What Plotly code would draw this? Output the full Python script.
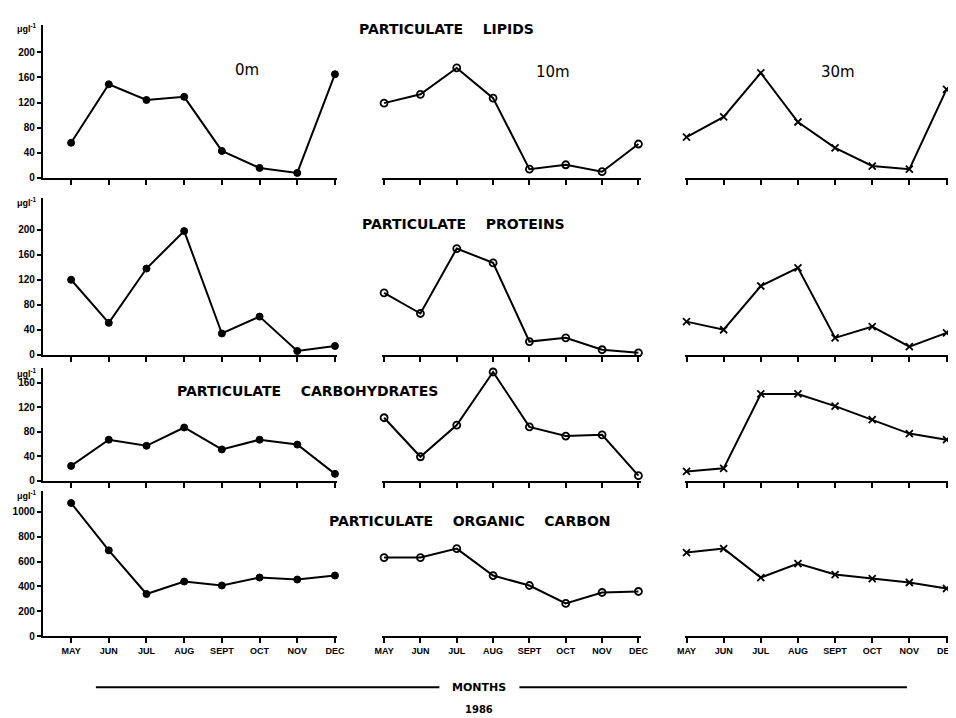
import plotly.graph_objects as go

months = ["MAY", "JUN", "JUL", "AUG", "SEPT", "OCT", "NOV", "DEC"]
depths = ["0m", "10m", "30m"]

lipids_0m = [56, 149, 124, 129, 43, 16, 8, 165]
lipids_10m = [119, 133, 175, 127, 14, 21, 10, 54]
lipids_30m = [65, 97, 167, 89, 48, 19, 14, 141]

proteins_0m = [120, 51, 138, 198, 34, 61, 6, 14]
proteins_10m = [99, 66, 170, 147, 21, 27, 8, 3]
proteins_30m = [53, 40, 110, 139, 27, 45, 13, 35]

carbo_0m = [24, 67, 57, 87, 51, 67, 59, 11]
carbo_10m = [103, 39, 91, 178, 88, 73, 75, 8]
carbo_30m = [15, 20, 142, 142, 122, 100, 77, 67]

carbon_0m = [1070, 690, 340, 440, 408, 472, 456, 488]
carbon_10m = [632, 632, 704, 488, 408, 264, 352, 360]
carbon_30m = [672, 704, 472, 584, 496, 464, 432, 384]

row_titles = ["PARTICULATE    LIPIDS", "PARTICULATE    PROTEINS",
              "PARTICULATE    CARBOHYDRATES", "PARTICULATE    ORGANIC    CARBON"]
row_data = [
    [lipids_0m, lipids_10m, lipids_30m],
    [proteins_0m, proteins_10m, proteins_30m],
    [carbo_0m, carbo_10m, carbo_30m],
    [carbon_0m, carbon_10m, carbon_30m],
]
y_ticks = [
    [0, 40, 80, 120, 160, 200],
    [0, 40, 80, 120, 160, 200],
    [0, 40, 80, 120, 160],
    [0, 200, 400, 600, 800, 1000],
]
y_ranges = [[0, 243], [0, 251], [0, 185], [0, 1170]]

W, H = 956, 718
# mapping from target page pixels to figure fractions (empirical page offset/scale)
AX, SX = 15.2, 0.982
AY, SY = 7.8, 0.993


def fx(px):
    return ((px - AX) / SX) / W


def fy(py):
    return 1 - ((py - AY) / SY) / H


# page-pixel geometry (top, bottom) per row, (left, right) per column
row_px = [(25, 178), (198, 355), (368, 481), (491, 637)]
col_px = [(42, 336), (381, 639), (683, 946)]
x_ranges = [[-0.75, 7.06], [-0.05, 7.06], [-0.05, 7.04]]

font_fam = "Liberation Sans, Arial, sans-serif"
title_fam = "DejaVu Sans, Liberation Sans, sans-serif"

fig = go.Figure()
layout = {}
marker_styles = [
    dict(symbol="circle", size=7, color="black", line=dict(color="black", width=1)),
    dict(symbol="circle-open", size=7, color="black", line=dict(color="black", width=1.8)),
    dict(symbol="x-thin", size=7, color="black", line=dict(color="black", width=1.8)),
]

for r in range(4):
    for c in range(3):
        n = r * 3 + c + 1
        xa = "x" if n == 1 else f"x{n}"
        ya = "y" if n == 1 else f"y{n}"
        xkey = "xaxis" if n == 1 else f"xaxis{n}"
        ykey = "yaxis" if n == 1 else f"yaxis{n}"
        fig.add_trace(go.Scatter(
            x=list(range(len(months))), y=row_data[r][c],
            mode="lines+markers", xaxis=xa, yaxis=ya,
            line=dict(color="black", width=2),
            marker=marker_styles[c], showlegend=False,
            cliponaxis=False,
        ))
        t, b = row_px[r]
        lft, rgt = col_px[c]
        xdict = dict(
            domain=[fx(lft), min(fx(rgt), 1)], range=x_ranges[c], anchor=ya,
            showgrid=False, zeroline=False, showline=True,
            linecolor="black", linewidth=2,
            ticks="outside", ticklen=5, tickwidth=2, tickcolor="black",
            tickvals=list(range(len(months))),
            showticklabels=(r == 3),
            tickfont=dict(family=font_fam, size=9, color="black", weight="bold"),
        )
        if r == 3:
            xdict["ticktext"] = months
        layout[xkey] = xdict
        layout[ykey] = dict(
            domain=[fy(b), fy(t)], range=y_ranges[r], anchor=xa,
            showgrid=False, zeroline=False,
            showline=(c == 0), linecolor="black", linewidth=2,
            ticks="outside" if c == 0 else "", ticklen=4, tickwidth=2,
            tickcolor="black",
            tickvals=y_ticks[r], showticklabels=(c == 0),
            tickfont=dict(family=font_fam, size=10, color="black", weight="bold"),
        )

annotations = []
title_pos = [(445, 29), (462, 224), (306, 391), (469, 522)]
unit_y = [28, 202, 373, 495]
for r in range(4):
    tx, ty = title_pos[r]
    annotations.append(dict(
        text=row_titles[r], x=fx(tx), y=fy(ty), xref="paper", yref="paper",
        showarrow=False, font=dict(family=title_fam, size=14, color="black", weight="bold"),
        xanchor="center", yanchor="middle"))
    annotations.append(dict(
        text="μgl<sup>-1</sup>", x=fx(26), y=fy(unit_y[r]), xref="paper", yref="paper",
        showarrow=False, font=dict(family=font_fam, size=9, color="black", weight="bold"),
        xanchor="center", yanchor="middle"))

depth_pos = [(246, 70), (552, 72), (836, 72)]
for d, (dx, dy) in zip(depths, depth_pos):
    annotations.append(dict(
        text=d, x=fx(dx), y=fy(dy), xref="paper", yref="paper", showarrow=False,
        font=dict(family=title_fam, size=15, color="black"),
        xanchor="center", yanchor="middle"))

annotations.append(dict(
    text="MONTHS", x=fx(478), y=fy(688), xref="paper", yref="paper", showarrow=False,
    font=dict(family=title_fam, size=11, color="black", weight="bold"),
    xanchor="center", yanchor="middle"))
annotations.append(dict(
    text="1986", x=fx(478), y=fy(710), xref="paper", yref="paper", showarrow=False,
    font=dict(family=title_fam, size=10, color="black", weight="bold"),
    xanchor="center", yanchor="middle"))

shapes = [
    dict(type="line", xref="paper", yref="paper", x0=fx(95), x1=fx(438),
         y0=fy(688), y1=fy(688), line=dict(color="black", width=2)),
    dict(type="line", xref="paper", yref="paper", x0=fx(518), x1=fx(905),
         y0=fy(688), y1=fy(688), line=dict(color="black", width=2)),
]

fig.update_layout(
    width=W, height=H, margin=dict(l=0, r=0, t=0, b=0),
    paper_bgcolor="white", plot_bgcolor="white",
    annotations=annotations, shapes=shapes, **layout,
)

fig.write_html("out.html")
